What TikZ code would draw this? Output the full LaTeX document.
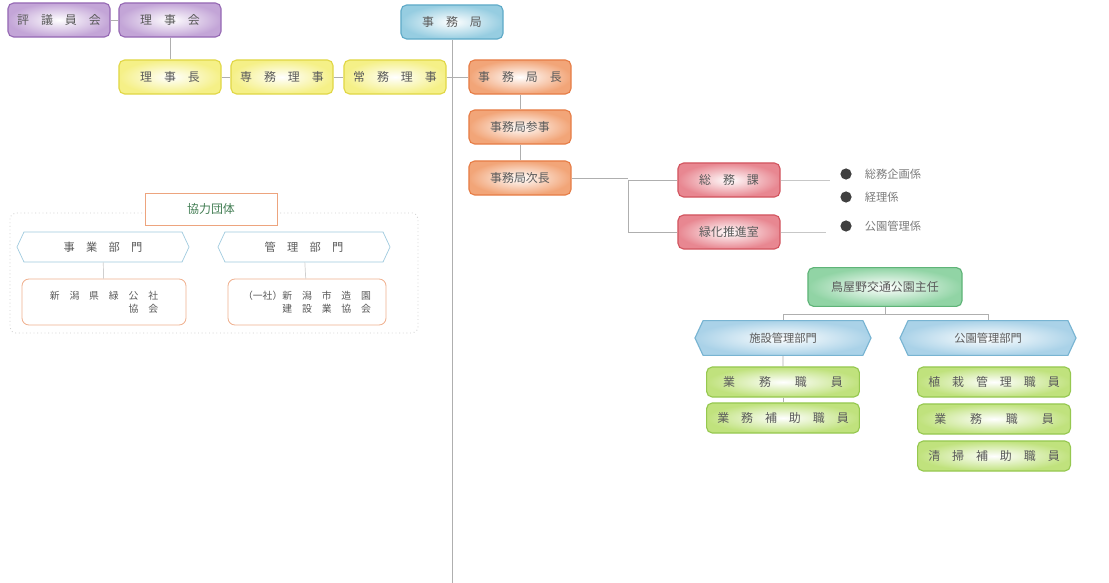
\documentclass[tikz,border=0pt]{standalone}
\usepackage{fontspec}
\setmainfont{Noto Sans CJK JP}
\usetikzlibrary{shapes.symbols}

\definecolor{purpleB}{RGB}{150,105,180}
\definecolor{purpleF}{RGB}{195,165,215}
\definecolor{blueB}{RGB}{95,170,200}
\definecolor{blueF}{RGB}{150,205,225}
\definecolor{yellowB}{RGB}{225,215,70}
\definecolor{yellowF}{RGB}{245,240,135}
\definecolor{orangeB}{RGB}{230,125,70}
\definecolor{orangeF}{RGB}{242,165,120}
\definecolor{redB}{RGB}{210,85,95}
\definecolor{redF}{RGB}{232,135,145}
\definecolor{greenB}{RGB}{95,180,120}
\definecolor{greenF}{RGB}{145,212,165}
\definecolor{limeB}{RGB}{150,200,80}
\definecolor{limeF}{RGB}{192,226,125}
\definecolor{hexB}{RGB}{120,180,210}
\definecolor{hexF}{RGB}{170,210,232}
\definecolor{lineC}{RGB}{175,175,175}
\definecolor{txtC}{RGB}{90,90,90}

\tikzset{
  orgbox/.style={rectangle, rounded corners=4pt, line width=0.8pt, text=txtC,
    minimum width=2.55cm, minimum height=0.85cm, font=\fontsize{8.5}{10}\selectfont},
  purplebox/.style={orgbox, draw=purpleB, inner color=white, outer color=purpleF},
  bluebox/.style={orgbox, draw=blueB, inner color=white, outer color=blueF},
  yellowbox/.style={orgbox, draw=yellowB, inner color=white, outer color=yellowF},
  orangebox/.style={orgbox, draw=orangeB, inner color=white, outer color=orangeF},
  redbox/.style={orgbox, draw=redB, inner color=white, outer color=redF},
  greenbox/.style={orgbox, draw=greenB, inner color=white, outer color=greenF,
    minimum width=3.85cm, minimum height=0.97cm},
  limebox/.style={orgbox, draw=limeB, inner color=white, outer color=limeF,
    minimum width=3.82cm, minimum height=0.75cm},
  hexbox/.style={signal, signal to=east and west, signal pointer angle=130,
    draw=hexB, line width=0.8pt, inner color=white, outer color=hexF, text=txtC,
    minimum width=4.4cm, minimum height=0.87cm, inner xsep=0pt, font=\fontsize{8}{10}\selectfont},
  hexwhite/.style={hexbox, fill=white, inner color=white, outer color=white,
    draw=hexB!70, line width=0.5pt, minimum width=4.3cm, minimum height=0.75cm},
  partnerbox/.style={rectangle, rounded corners=5pt, draw=orangeB!60, line width=0.6pt,
    fill=white, text=txtC, minimum height=1.15cm, font=\fontsize{7}{9}\selectfont, align=right},
  bullet/.style={circle, fill=black!75, inner sep=0pt, minimum size=0.28cm},
  bullettext/.style={anchor=west, text=txtC!80, font=\fontsize{8}{10}\selectfont},
  conn/.style={draw=lineC, line width=0.5pt},
}

\begin{document}
\begin{tikzpicture}[x=0.025cm, y=-0.025cm]
\useasboundingbox[fill=white] (0,0) rectangle (1109,583);

% board
\node[purplebox] (council) at (59,20) {評　議　員　会};
\node[purplebox] (board) at (170,20) {理　事　会};
\node[yellowbox] (chair) at (170,77) {理　事　長};
\node[yellowbox] (senmu) at (282,77) {専　務　理　事};
\node[yellowbox] (jomu) at (395,77) {常　務　理　事};

% secretariat
\node[bluebox] (office) at (452,22) {事　務　局};
\node[orangebox] (chief) at (520,77) {事　務　局　長};
\node[orangebox] (councilor) at (520,127) {事務局参事};
\node[orangebox] (deputy) at (520,178) {事務局次長};
\node[redbox] (general) at (729,180) {総　務　課};
\node[redbox] (green) at (729,232) {緑化推進室};

\node[bullet] (b1) at (846,174) {};
\node[bullet] (b2) at (846,197) {};
\node[bullet] (b3) at (846,226) {};
\node[bullettext] at (860,174) {総務企画係};
\node[bullettext] at (860,197) {経理係};
\node[bullettext] at (860,226) {公園管理係};

% park
\node[greenbox] (park) at (885,287) {鳥屋野交通公園主任};
\node[hexbox] (facility) at (783,338) {施設管理部門};
\node[hexbox] (parkmgmt) at (988,338) {公園管理部門};
\node[limebox] (staffA) at (783,382) {業　　務　　職　　員};
\node[limebox] (assistA) at (783,418) {業　務　補　助　職　員};
\node[limebox] (plant) at (994,382) {植　栽　管　理　職　員};
\node[limebox] (staffB) at (994,419) {業　　務　　職　　員};
\node[limebox] (clean) at (994,456) {清　掃　補　助　職　員};

% partners
\draw[lineC!60, dotted, line width=0.6pt, rounded corners=4pt] (10,213) rectangle (418,333);
\node[rectangle, draw=orangeB!70, line width=0.6pt, fill=white, text=greenB!70!black,
  minimum width=3.3cm, minimum height=0.8cm, font=\fontsize{8.5}{10}\selectfont] (partners) at (211,209) {協力団体};
\node[hexwhite] (business) at (103,247) {事　業　部　門};
\node[hexwhite] (mgmt) at (304,247) {管　理　部　門};
\node[partnerbox, minimum width=4.1cm] (assocA) at (104,302) {新　潟　県　緑　公　社\\協　会};
\node[partnerbox, minimum width=3.95cm] (assocB) at (307,302) {（一社）新　潟　市　造　園\\建　設　業　協　会};

% connectors
\draw[conn] (council) -- (board);
\draw[conn] (board) -- (chair);
\draw[conn] (chair) -- (senmu);
\draw[conn] (senmu) -- (jomu);
\coordinate (spineTop) at (office.south);
\coordinate (spineBot) at (office.south |- 0,583);
\draw[conn] (spineTop) -- (spineBot);
\draw[conn] (jomu) -- (chief);
\draw[conn] (chief) -- (councilor);
\draw[conn] (councilor) -- (deputy);
\coordinate (fork) at (628,178);
\draw[conn] (deputy) -- (fork);
\draw[conn] (fork |- general) -- (fork |- green);
\draw[conn] (fork |- general) -- (general);
\draw[conn] (fork |- green) -- (green);
\coordinate (genEnd) at (830,180);
\coordinate (greenEnd) at (826,232);
\draw[conn, lineC!70] (general) -- (genEnd);
\draw[conn, lineC!70] (green) -- (greenEnd);
\coordinate (parkfork) at (885,314);
\draw[conn] (park) -- (parkfork);
\draw[conn] (facility.north |- parkfork) -- (parkmgmt.north |- parkfork);
\draw[conn] (facility.north |- parkfork) -- (facility.north);
\draw[conn] (parkmgmt.north |- parkfork) -- (parkmgmt.north);
\draw[conn] (facility) -- (staffA);
\draw[conn] (staffA) -- (assistA);
\draw[conn, lineC!60] (business) -- (assocA);
\draw[conn, lineC!60] (mgmt) -- (assocB);
\end{tikzpicture}
\end{document}
